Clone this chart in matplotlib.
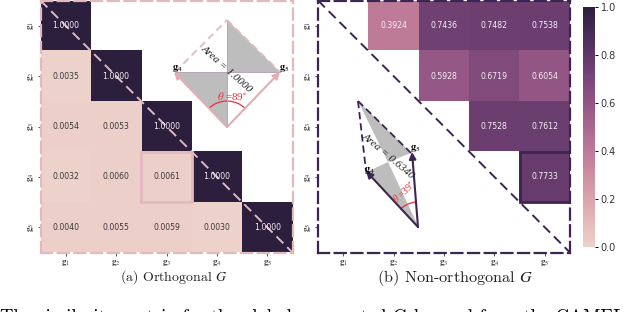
import numpy as np
import matplotlib
matplotlib.use("Agg")
import matplotlib.pyplot as plt
import seaborn as sns
from matplotlib.patches import Polygon, Arc, Rectangle

plt.rcParams["mathtext.fontset"] = "stix"
plt.rcParams["axes.unicode_minus"] = False

tick_labels = [r"$\mathbf{g}_%d$" % i for i in range(1, 6)]

ortho_rows = [
    [1.0000],
    [0.0035, 1.0000],
    [0.0054, 0.0053, 1.0000],
    [0.0032, 0.0060, 0.0061, 1.0000],
    [0.0040, 0.0055, 0.0059, 0.0030, 1.0000],
]
nonortho_rows = [
    [0.3924, 0.7436, 0.7482, 0.7538],
    [0.5928, 0.6719, 0.6054],
    [0.7528, 0.7612],
    [0.7733],
]

cmap = sns.cubehelix_palette(as_cmap=True)
W, H = 640, 312
pink = "#e3b9bd"
purple = "#3d2553"
red = "#e8323c"


def box(x0, y0, x1, y1):
    # pixel box, y from top of the picture
    return [x0 / W, 1 - y1 / H, (x1 - x0) / W, (y1 - y0) / H]


def heat(ax, M, col):
    ax.imshow(M, cmap=cmap, vmin=0, vmax=1, aspect="auto")
    for i in range(5):
        for j in range(5):
            if np.isnan(M[i, j]):
                continue
            c = "#f4f0f4" if M[i, j] > 0.3 else "#3a3a3a"
            ax.text(j, i, "%.4f" % M[i, j], ha="center", va="center",
                    color=c, fontsize=5.6, family="DejaVu Sans")
    ax.set_xticks(range(5))
    ax.set_yticks(range(5))
    ax.set_xticklabels(tick_labels, fontsize=6.5, color="#444444")
    ax.set_yticklabels(tick_labels, fontsize=6.5, color="#444444", rotation=90, va="center")
    ax.tick_params(axis="x", length=2, width=0.6, pad=2, color="#333333")
    ax.tick_params(axis="y", length=2, width=0.6, pad=1.5, color="#333333")
    for s in ax.spines.values():
        s.set_color(col)
        s.set_linewidth(1.6)
        s.set_linestyle((0, (5, 2.5)))
    ax.plot([-0.5, 4.5], [-0.5, 4.5], color=col, lw=1.4, ls=(0, (5, 2.8)), clip_on=False)


fig = plt.figure(figsize=(W / 100, H / 100), dpi=100)

ax1 = fig.add_axes(box(40.5, 0.5, 292.5, 252.5))
A = np.full((5, 5), np.nan)
for i, r in enumerate(ortho_rows):
    A[i, :len(r)] = r
heat(ax1, A, pink)
ax1.add_patch(Rectangle((1.5, 2.5), 1, 1, fill=False, ec="#e3b9bd", lw=2))

ax2 = fig.add_axes(box(318, 0.5, 570, 252.5))
B = np.full((5, 5), np.nan)
for i, r in enumerate(nonortho_rows):
    B[i, i + 1:] = r
heat(ax2, B, purple)
ax2.add_patch(Rectangle((3.5, 2.5), 1, 1, fill=False, ec=purple, lw=2))

# parallelogram insets, drawn in picture pixels
ov = fig.add_axes([0, 0, 1, 1])
ov.set_xlim(0, W)
ov.set_ylim(H, 0)
ov.axis("off")
ov.patch.set_alpha(0)

# left inset
ov.add_patch(Polygon([(227, 72), (280, 72), (227, 20)], fc="#bdbdbd", ec="none"))
ov.add_patch(Polygon([(227, 72), (175, 72), (227, 127)], fc="#bdbdbd", ec="none"))
ov.plot([227, 227], [20, 127], color="#b5a8b5", lw=0.7)
ov.plot([175, 280], [72, 72], color="#b5a8b5", lw=0.7)
ov.plot([175, 227], [72, 20], color=pink, lw=1.3, ls=(0, (4, 2.5)))
ov.plot([227, 280], [20, 72], color=pink, lw=1.3, ls=(0, (4, 2.5)))
ov.annotate("", xy=(174, 72), xytext=(227, 127),
            arrowprops=dict(arrowstyle="-|>", color="#e0adb2", lw=1.5, shrinkA=0, shrinkB=0))
ov.annotate("", xy=(280, 72), xytext=(227, 127),
            arrowprops=dict(arrowstyle="-|>", color="#e0adb2", lw=1.5, shrinkA=0, shrinkB=0))
ov.add_patch(Arc((227, 127), 52, 52, theta1=225, theta2=315, color=red, lw=0.9))
ov.text(227, 69, "Area = 1.0000", rotation=-42, ha="center", va="center", fontsize=8,
        family="Liberation Serif", style="italic", color="#222222")
ov.text(232, 96, r"$\theta$ =89$^{\circ}$", ha="center", va="center", fontsize=8,
        color=red, family="Liberation Serif")
ov.text(177, 69, r"$\mathbf{g}_4$", ha="center", va="center", fontsize=7.5)
ov.text(284, 69, r"$\mathbf{g}_5$", ha="center", va="center", fontsize=7.5)

# right inset
ov.add_patch(Polygon([(358, 101), (411, 153), (388, 162)], fc="#bdbdbd", ec="none"))
ov.add_patch(Polygon([(367, 172), (388, 162), (418, 226)], fc="#bdbdbd", ec="none"))
ov.plot([358, 411], [101, 153], color=purple, lw=1.3, ls=(0, (4, 2.2)))
ov.plot([358, 366], [101, 171], color=purple, lw=1.3, ls=(0, (4, 2.2)))
ov.annotate("", xy=(366, 171), xytext=(418, 227),
            arrowprops=dict(arrowstyle="-|>", color=purple, lw=1.5, shrinkA=0, shrinkB=0))
ov.annotate("", xy=(412, 152), xytext=(418, 227),
            arrowprops=dict(arrowstyle="-|>", color=purple, lw=1.5, shrinkA=0, shrinkB=0))
ov.add_patch(Arc((418, 227), 50, 50, theta1=225, theta2=265, color=red, lw=0.9))
ov.text(388, 156, "Area = 0.6340", rotation=-40, ha="center", va="center", fontsize=8,
        family="Liberation Serif", style="italic", color="#222222")
ov.text(403, 191, r"$\theta$ =39$^{\circ}$", rotation=44, ha="center", va="center", fontsize=7,
        color=red, family="Liberation Serif")
ov.text(369, 170, r"$\mathbf{g}_4$", ha="center", va="center", fontsize=7.5)
ov.text(415, 149, r"$\mathbf{g}_5$", ha="center", va="center", fontsize=7.5)

# colorbar
cax = fig.add_axes(box(583, 7, 595, 247))
sm = plt.cm.ScalarMappable(cmap=cmap, norm=plt.Normalize(0, 1))
cb = fig.colorbar(sm, cax=cax)
cb.set_ticks([0, 0.2, 0.4, 0.6, 0.8, 1.0])
cb.ax.tick_params(labelsize=7, length=2, width=0.7, pad=2, labelcolor="#333333")
cb.outline.set_visible(False)

# captions
fig.text(174 / W, 1 - 277 / H, r"(a) Orthogonal $\mathbf{\mathit{G}}$", ha="center", va="center",
         fontsize=10, family="cmr10", color="#222222")
fig.text(455 / W, 1 - 278 / H, r"(b) Non-orthogonal $\mathbf{\mathit{G}}$", ha="center", va="center",
         fontsize=11.7, family="cmr10", color="#222222")
fig.text(0, 1 - 309 / H, "The similarity matrix for the global aggregated G learned from the CAMEL",
         ha="left", va="top", fontsize=13.5, family="cmr10")

fig.savefig("out.png", dpi=100)
